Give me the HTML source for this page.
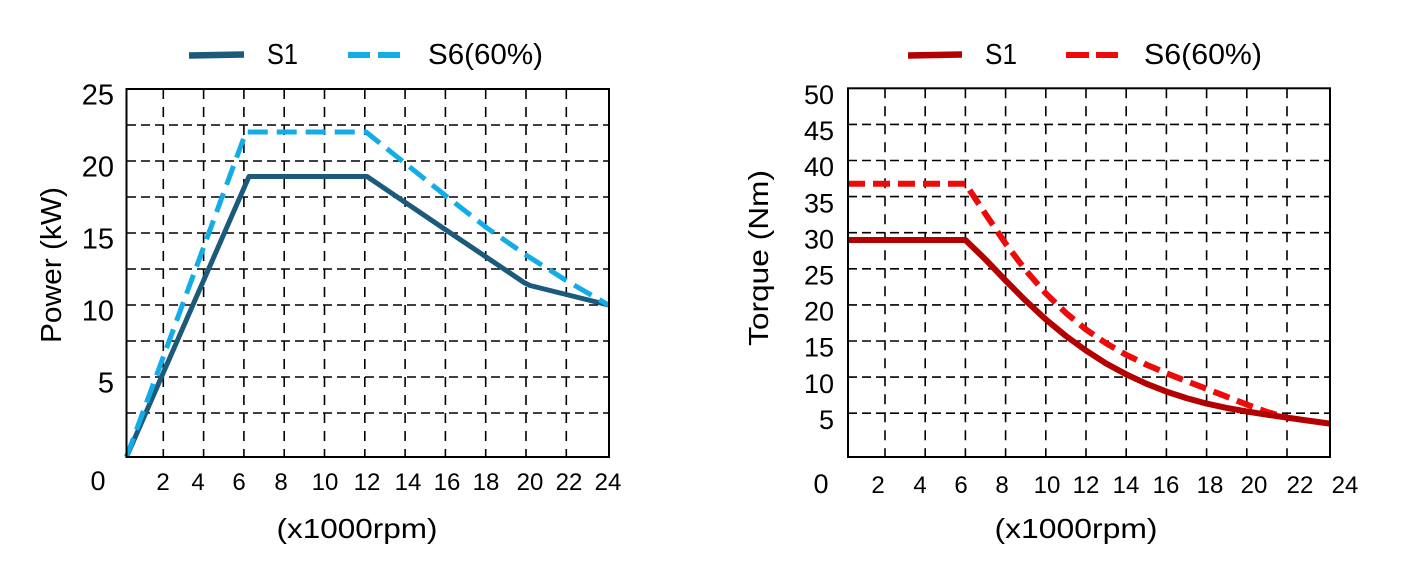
<!DOCTYPE html>
<html>
<head>
<meta charset="utf-8">
<style>
  html,body{margin:0;padding:0;background:#fff;}
  svg{display:block;}
  text{font-family:"Liberation Sans", Arial, sans-serif; fill:#000;}
</style>
</head>
<body>
<svg width="1418" height="587" viewBox="0 0 1418 587" xmlns="http://www.w3.org/2000/svg">
  <rect x="0" y="0" width="1418" height="587" fill="#fff"/>

  <!-- ================= LEFT CHART ================= -->
  <line x1="189" y1="55.5" x2="244" y2="54.5" stroke="#1b5a7a" stroke-width="6.5"/>
  <text x="267" y="64" font-size="29" textLength="31" lengthAdjust="spacingAndGlyphs">S1</text>
  <line x1="348" y1="55" x2="400" y2="55" stroke="#12ade6" stroke-width="6" stroke-dasharray="22 8"/>
  <text x="428" y="64" font-size="29" textLength="115" lengthAdjust="spacingAndGlyphs">S6(60%)</text>

  <g stroke="#000" stroke-width="1.6" stroke-dasharray="9 5" fill="none">
    <line x1="127" y1="125" x2="609" y2="125"/>
    <line x1="127" y1="161" x2="609" y2="161"/>
    <line x1="127" y1="197" x2="609" y2="197"/>
    <line x1="127" y1="233" x2="609" y2="233"/>
    <line x1="127" y1="269" x2="609" y2="269"/>
    <line x1="127" y1="305" x2="609" y2="305"/>
    <line x1="127" y1="341" x2="609" y2="341"/>
    <line x1="127" y1="377" x2="609" y2="377"/>
    <line x1="127" y1="413" x2="609" y2="413"/>
  </g>
  <g stroke="#000" stroke-width="1.6" stroke-dasharray="10 8" fill="none">
    <line x1="163.3" y1="89" x2="163.3" y2="457"/>
    <line x1="203.6" y1="89" x2="203.6" y2="457"/>
    <line x1="243.9" y1="89" x2="243.9" y2="457"/>
    <line x1="284.2" y1="89" x2="284.2" y2="457"/>
    <line x1="324.5" y1="89" x2="324.5" y2="457"/>
    <line x1="364.8" y1="89" x2="364.8" y2="457"/>
    <line x1="405.1" y1="89" x2="405.1" y2="457"/>
    <line x1="445.4" y1="89" x2="445.4" y2="457"/>
    <line x1="485.7" y1="89" x2="485.7" y2="457"/>
    <line x1="526" y1="89" x2="526" y2="457"/>
    <line x1="566.3" y1="89" x2="566.3" y2="457"/>
  </g>

  <polyline points="126.5,457 249,176.5 367,176.5 446,230 507,271 524,282.5 530,285.5 608.5,305"
            fill="none" stroke="#1b5a7a" stroke-width="5" stroke-linejoin="round"/>
  <polyline points="126.5,457 246,132 366,132 406,164 446,196 487,228 526,255 567,281 608.5,305"
            fill="none" stroke="#12ade6" stroke-width="5" stroke-dasharray="20 9" stroke-linejoin="round"/>

  <rect x="126.5" y="89" width="482.5" height="368" fill="none" stroke="#000" stroke-width="2"/>

  <g font-size="29" text-anchor="end">
    <text x="114" y="104.5">25</text>
    <text x="114" y="176.5">20</text>
    <text x="114" y="248.5">15</text>
    <text x="114" y="320.5">10</text>
    <text x="114" y="392.5">5</text>
  </g>
  <text x="98" y="490" font-size="27" text-anchor="middle">0</text>
  <g font-size="24" text-anchor="middle">
    <text x="163" y="490">2</text>
    <text x="198" y="490">4</text>
    <text x="239" y="490">6</text>
    <text x="281" y="490">8</text>
    <text x="325" y="490">10</text>
    <text x="367" y="490">12</text>
    <text x="408" y="490">14</text>
    <text x="447" y="490">16</text>
    <text x="486" y="490">18</text>
    <text x="530" y="490">20</text>
    <text x="569" y="490">22</text>
    <text x="608" y="490">24</text>
  </g>
  <text x="357" y="538" font-size="28" text-anchor="middle" textLength="161" lengthAdjust="spacingAndGlyphs">(x1000rpm)</text>
  <text transform="translate(61,265) rotate(-90)" x="0" y="0" font-size="29" text-anchor="middle" textLength="156" lengthAdjust="spacingAndGlyphs">Power (kW)</text>

  <!-- ================= RIGHT CHART ================= -->
  <line x1="908" y1="55.5" x2="962" y2="54.5" stroke="#b40000" stroke-width="6.5"/>
  <text x="985" y="64" font-size="29" textLength="32" lengthAdjust="spacingAndGlyphs">S1</text>
  <line x1="1066" y1="55" x2="1118" y2="55" stroke="#ee0a0a" stroke-width="6" stroke-dasharray="23 7"/>
  <text x="1144" y="64" font-size="29" textLength="118" lengthAdjust="spacingAndGlyphs">S6(60%)</text>

  <g stroke="#000" stroke-width="1.6" stroke-dasharray="9 5" fill="none">
    <line x1="848" y1="124.4" x2="1330" y2="124.4"/>
    <line x1="848" y1="160.5" x2="1330" y2="160.5"/>
    <line x1="848" y1="196.6" x2="1330" y2="196.6"/>
    <line x1="848" y1="232.7" x2="1330" y2="232.7"/>
    <line x1="848" y1="268.8" x2="1330" y2="268.8"/>
    <line x1="848" y1="304.9" x2="1330" y2="304.9"/>
    <line x1="848" y1="341" x2="1330" y2="341"/>
    <line x1="848" y1="377.1" x2="1330" y2="377.1"/>
    <line x1="848" y1="413.2" x2="1330" y2="413.2"/>
  </g>
  <g stroke="#000" stroke-width="1.6" stroke-dasharray="10 8" fill="none">
    <line x1="885" y1="88.3" x2="885" y2="457"/>
    <line x1="925.2" y1="88.3" x2="925.2" y2="457"/>
    <line x1="965.4" y1="88.3" x2="965.4" y2="457"/>
    <line x1="1005.6" y1="88.3" x2="1005.6" y2="457"/>
    <line x1="1045.8" y1="88.3" x2="1045.8" y2="457"/>
    <line x1="1086" y1="88.3" x2="1086" y2="457"/>
    <line x1="1126.2" y1="88.3" x2="1126.2" y2="457"/>
    <line x1="1166.4" y1="88.3" x2="1166.4" y2="457"/>
    <line x1="1206.6" y1="88.3" x2="1206.6" y2="457"/>
    <line x1="1246.8" y1="88.3" x2="1246.8" y2="457"/>
    <line x1="1287" y1="88.3" x2="1287" y2="457"/>
  </g>

  <polyline points="848,183.7 965.4,183.7 985.5,214 1005.6,243.6 1025.7,270.3 1045.8,293.4 1065.9,312.9 1086,329.5 1106.1,343.3 1126.2,354.8 1146.3,364.6 1166.4,373.2 1186.5,381.2 1206.6,388.8 1226.7,396.7 1246.8,404.6 1266.9,411.9 1287,417.6"
            fill="none" stroke="#ee0a0a" stroke-width="6" stroke-dasharray="17 8" stroke-linejoin="round"/>
  <polyline points="848,240 965.4,240 985.5,259.5 1005.6,280.5 1025.7,300.7 1045.8,319.4 1065.9,336 1086,350.5 1106.1,363.5 1126.2,374.3 1146.3,383.7 1166.4,391.6 1186.5,398.1 1206.6,403.6 1226.7,407.9 1246.8,411.5 1266.9,414.7 1287,417.6 1307.1,420.5 1330,423.6"
            fill="none" stroke="#b40000" stroke-width="6" stroke-linejoin="round"/>

  <rect x="848" y="88.3" width="482" height="368.7" fill="none" stroke="#000" stroke-width="2"/>

  <g font-size="27" text-anchor="end">
    <text x="834" y="104">50</text>
    <text x="834" y="140.1">45</text>
    <text x="834" y="176.2">40</text>
    <text x="834" y="212.3">35</text>
    <text x="834" y="248.4">30</text>
    <text x="834" y="284.5">25</text>
    <text x="834" y="320.6">20</text>
    <text x="834" y="356.7">15</text>
    <text x="834" y="392.8">10</text>
    <text x="834" y="428.9">5</text>
  </g>
  <text x="821" y="493" font-size="27" text-anchor="middle">0</text>
  <g font-size="24" text-anchor="middle">
    <text x="878" y="493">2</text>
    <text x="920" y="493">4</text>
    <text x="961" y="493">6</text>
    <text x="1002" y="493">8</text>
    <text x="1047" y="493">10</text>
    <text x="1086" y="493">12</text>
    <text x="1126" y="493">14</text>
    <text x="1166" y="493">16</text>
    <text x="1210" y="493">18</text>
    <text x="1254" y="493">20</text>
    <text x="1300" y="493">22</text>
    <text x="1345" y="493">24</text>
  </g>
  <text x="1076" y="538" font-size="28" text-anchor="middle" textLength="163" lengthAdjust="spacingAndGlyphs">(x1000rpm)</text>
  <text transform="translate(768,258) rotate(-90)" x="0" y="0" font-size="28" text-anchor="middle" textLength="176" lengthAdjust="spacingAndGlyphs">Torque  (Nm)</text>
</svg>
</body>
</html>
